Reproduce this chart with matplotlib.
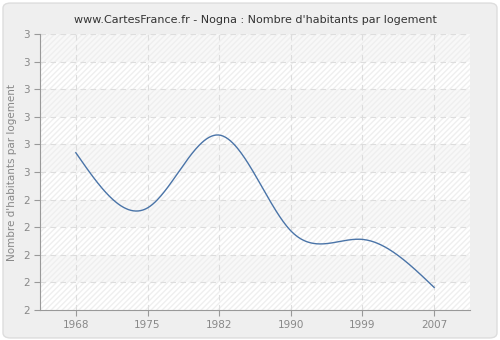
import matplotlib
matplotlib.use("Agg")
import matplotlib.pyplot as plt
from matplotlib.patches import FancyBboxPatch, Rectangle
from matplotlib.ticker import FuncFormatter
import numpy as np

years = ["1968", "1975", "1982", "1990", "1999", "2007"]
values = [2.57, 2.37, 2.634, 2.287, 2.256, 2.082]
y_ticks = [2.0, 2.1, 2.2, 2.3, 2.4, 2.5, 2.6, 2.7, 2.8, 2.9, 3.0]


def natural_spline(x, y, n=300):
    x = np.asarray(x, float)
    y = np.asarray(y, float)
    k = len(x)
    h = np.diff(x)
    A = np.zeros((k, k))
    b = np.zeros(k)
    A[0, 0] = A[-1, -1] = 1
    for i in range(1, k - 1):
        A[i, i - 1] = h[i - 1]
        A[i, i] = 2 * (h[i - 1] + h[i])
        A[i, i + 1] = h[i]
        b[i] = 3 * ((y[i + 1] - y[i]) / h[i] - (y[i] - y[i - 1]) / h[i - 1])
    c = np.linalg.solve(A, b)
    xs = np.linspace(x[0], x[-1], n)
    ys = np.empty_like(xs)
    for j, xv in enumerate(xs):
        i = min(np.searchsorted(x, xv, side="right") - 1, k - 2)
        d = xv - x[i]
        bi = (y[i + 1] - y[i]) / h[i] - h[i] * (2 * c[i] + c[i + 1]) / 3
        di = (c[i + 1] - c[i]) / (3 * h[i])
        ys[j] = y[i] + bi * d + c[i] * d ** 2 + di * d ** 3
    return xs, ys


fig = plt.figure(figsize=(5, 3.4), dpi=100, facecolor="white")
bg = FancyBboxPatch((0.006, 0.006), 0.988, 0.985,
                    boxstyle="round,pad=0,rounding_size=0.015",
                    transform=fig.transFigure, facecolor="#efefef",
                    edgecolor="#dddddd", linewidth=1, zorder=-10)
fig.patches.append(bg)

ax = fig.add_axes([0.08, 0.088, 0.86, 0.812])
ax.set_facecolor("white")

pos = np.arange(len(years))
ax.set_xlim(-0.5, len(years) - 0.5)
ax.set_ylim(2.0, 3.0)

# alternating bands and hatch
for i in range(len(y_ticks) - 1):
    if i % 2 == 1:
        ax.axhspan(y_ticks[i], y_ticks[i + 1], color="#f8f8f8", zorder=0, lw=0)
ax.add_patch(Rectangle((0, 0), 1, 1, transform=ax.transAxes, fill=False,
                       hatch="//////", edgecolor="#efefef", lw=0, zorder=0.5))

for p in pos:
    ax.axvline(p, color="#dddddd", ls=(0, (5, 4)), lw=0.8, zorder=1)
for t in y_ticks[1:]:
    ax.axhline(t, color="#dddddd", ls=(0, (5, 4)), lw=0.8, zorder=1)

xs, ys = natural_spline(pos, values)
ax.plot(xs, ys, color="#4a74a8", lw=1, zorder=3)

ax.set_xticks(pos)
ax.set_xticklabels(years)
ax.set_yticks(y_ticks)
ax.yaxis.set_major_formatter(FuncFormatter(lambda v, _: str(int(np.floor(v + 0.5 + 1e-9)))))

for s in ["top", "right"]:
    ax.spines[s].set_visible(False)
for s in ["left", "bottom"]:
    ax.spines[s].set_color("#999999")
ax.tick_params(colors="#999999", labelcolor="#888888", labelsize=7.5, length=4, width=0.8)

ax.set_ylabel("Nombre d'habitants par logement", color="#888888", fontsize=7.5)
ax.set_title("www.CartesFrance.fr - Nogna : Nombre d'habitants par logement",
             fontsize=8, color="#333333", pad=8)

fig.savefig("out.png", dpi=100, facecolor=fig.get_facecolor())
